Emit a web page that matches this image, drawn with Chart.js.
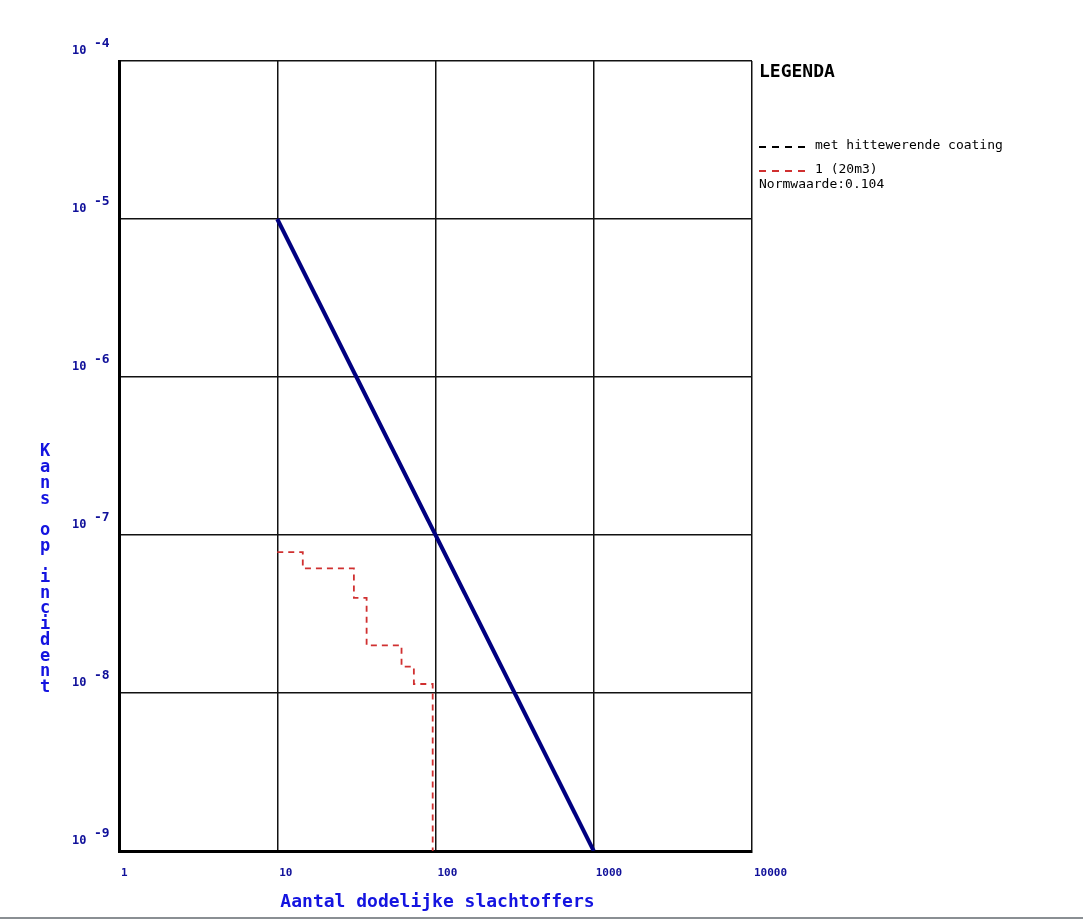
<!DOCTYPE html>
<html>
<head>
<meta charset="utf-8">
<script src="https://cdn.jsdelivr.net/npm/chart.js@4.4.0/dist/chart.umd.min.js"></script>
<style>
  body { margin: 0; background: #fff; }
  canvas { display: block; }
</style>
</head>
<body>
<canvas id="fnCurve" width="1083" height="919"></canvas>
<script>
  // ======== Data ========
  const xTicks = [1, 10, 100, 1000, 10000];
  const yTicks = [1e-9, 1e-8, 1e-7, 1e-6, 1e-5, 1e-4];

  // normlijn (oriëntatiewaarde)
  const normN = [10, 1000];
  const normF = [1e-5, 1e-9];

  // scenario 1 (20m3), trapsgewijze FN-curve
  const scenN = [10, 14.5, 30.5, 36.7, 61, 73, 96];
  const scenF = [7.8e-8, 6.15e-8, 4.0e-8, 2.0e-8, 1.47e-8, 1.14e-8, 1e-9];

  const xTitle = 'Aantal dodelijke slachtoffers';
  const yTitle = 'Kans op incident';
  const legendTitle = 'LEGENDA';
  const legendItems = [
    { text: 'met hittewerende coating', color: '#000000' },
    { text: '1 (20m3)', color: '#d03030' }
  ];
  const normText = 'Normwaarde:0.104';

  const tickBlue = '#10109a';
  const titleBlue = '#1414e0';
  const mono = '"DejaVu Sans Mono", "Liberation Mono", monospace';

  // ======== Tekst rond de grafiek (labels, titels, legenda) ========
  const textPlugin = {
    id: 'fnText',
    afterDraw(chart) {
      const ctx = chart.ctx;
      const xs = chart.scales.x, ys = chart.scales.y;
      const area = chart.chartArea;
      ctx.save();
      ctx.textBaseline = 'middle';
      ctx.textAlign = 'left';

      // y labels: 10 met exponent
      ctx.fillStyle = tickBlue;
      yTicks.forEach(v => {
        const py = ys.getPixelForValue(v);
        ctx.font = 'bold 12px ' + mono;
        ctx.fillText('10', area.left - 47, py - 10);
        ctx.font = 'bold 13px ' + mono;
        ctx.fillText(String(Math.round(Math.log10(v))), area.left - 25, py - 17);
      });

      // x labels
      ctx.font = 'bold 11px ' + mono;
      xTicks.forEach(v => {
        ctx.fillText(String(v), xs.getPixelForValue(v) + 2, area.bottom + 22);
      });

      // x titel
      ctx.fillStyle = titleBlue;
      ctx.font = 'bold 18px ' + mono;
      ctx.textAlign = 'center';
      ctx.fillText(xTitle, (area.left + area.right) / 2 + 2, area.bottom + 51);

      // y titel, letters onder elkaar
      ctx.font = 'bold 17px ' + mono;
      yTitle.split('').forEach((ch, i) => {
        ctx.fillText(ch, 45, 452 + i * 15.7);
      });

      // legenda
      const lx = area.right + 7;
      ctx.textAlign = 'left';
      ctx.fillStyle = '#000';
      ctx.font = 'bold 18px ' + mono;
      ctx.fillText(legendTitle, lx, area.top + 11);

      ctx.font = '13px ' + mono;
      legendItems.forEach((item, i) => {
        const ly = area.top + 85 + i * 24;
        ctx.strokeStyle = item.color;
        ctx.lineWidth = 2;
        ctx.setLineDash([7, 6]);
        ctx.beginPath();
        ctx.moveTo(lx, ly + 1);
        ctx.lineTo(lx + 47, ly + 1);
        ctx.stroke();
        ctx.fillStyle = '#000';
        ctx.fillText(item.text, lx + 56, ly);
      });
      ctx.setLineDash([]);
      ctx.fillText(normText, lx, area.top + 124);
      ctx.restore();
    }
  };

  const whiteBg = {
    id: 'whiteBg',
    beforeDraw(chart) {
      const ctx = chart.ctx;
      ctx.save();
      ctx.fillStyle = '#fff';
      ctx.fillRect(0, 0, chart.width, chart.height);
      // grijze rand onderaan
      ctx.fillStyle = '#8a8f93';
      ctx.fillRect(0, chart.height - 2, chart.width, 2);
      ctx.restore();
    }
  };

  // ======== FN-curve ========
  new Chart(document.getElementById('fnCurve'), {
    type: 'line',
    data: {
      datasets: [{
        label: 'Normlijn',
        data: normN.map((n, i) => ({ x: n, y: normF[i] })),
        borderColor: '#000080',
        borderWidth: 4,
        pointRadius: 0,
        fill: false
      }, {
        label: legendItems[1].text,
        data: scenN.map((n, i) => ({ x: n, y: scenF[i] })),
        borderColor: '#d03030',
        borderWidth: 1.8,
        borderDash: [6, 5],
        stepped: 'before', // eerst horizontaal, dan omlaag
        pointRadius: 0,
        fill: false
      }]
    },
    options: {
      responsive: false,
      animation: false,
      layout: { padding: { left: 119, top: 61, right: 331, bottom: 68 } },
      plugins: {
        legend: { display: false },
        tooltip: { enabled: false }
      },
      scales: {
        x: {
          type: 'logarithmic',
          min: 1,
          max: 10000,
          afterBuildTicks: axis => { axis.ticks = xTicks.map(v => ({ value: v })); },
          ticks: { display: false },
          grid: { color: '#111', lineWidth: 1.5, drawTicks: false },
          border: { color: '#000', width: 3 }
        },
        y: {
          type: 'logarithmic',
          min: 1e-9,
          max: 1e-4,
          afterBuildTicks: axis => { axis.ticks = yTicks.map(v => ({ value: v })); },
          ticks: { display: false },
          grid: { color: '#111', lineWidth: 1.5, drawTicks: false },
          border: { color: '#000', width: 3 }
        }
      }
    },
    plugins: [whiteBg, textPlugin]
  });
</script>
</body>
</html>
